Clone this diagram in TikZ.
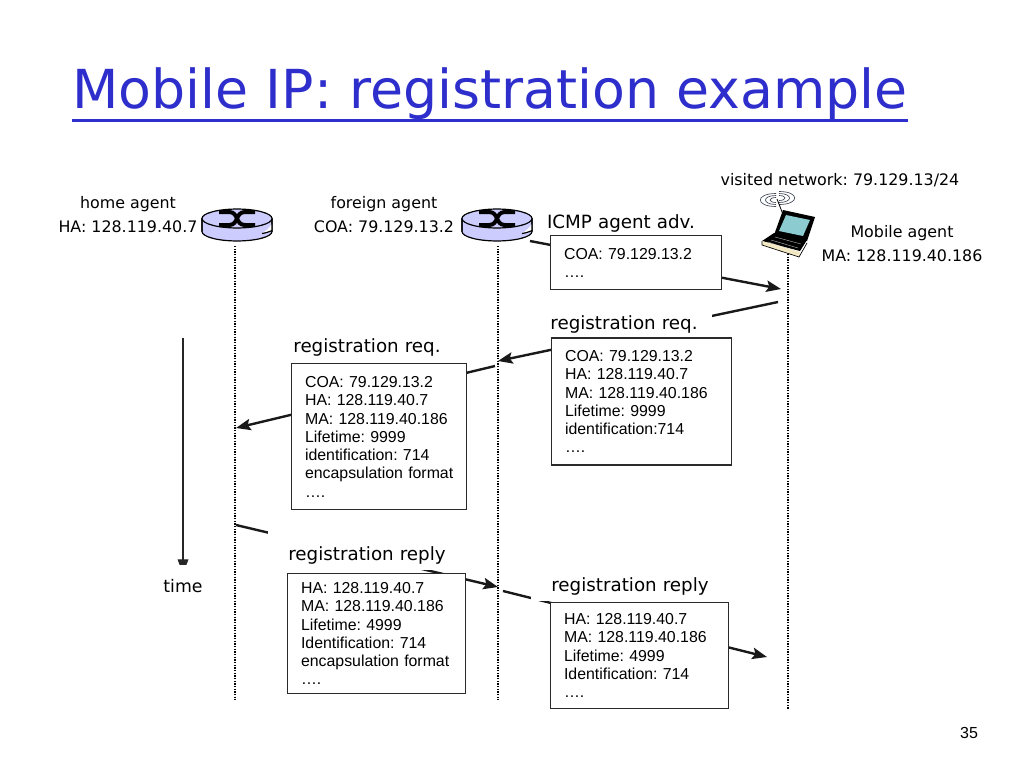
\documentclass[tikz,border=0pt]{standalone}
\usepackage{fontspec}
\setmainfont{Liberation Sans}
\newfontfamily\labelfamily{DejaVu Sans}
\usepackage{xcolor}
\usepackage{tikz}
\usetikzlibrary{positioning, backgrounds, arrows.meta}

\definecolor{titleblue}{HTML}{2E2ECC}
\definecolor{routerfill}{HTML}{CCCCFF}
\definecolor{boxline}{HTML}{2A2A2A}
\definecolor{screenblue}{HTML}{8CCBD0}
\definecolor{laptopbase}{HTML}{F3E8C4}
\definecolor{wavegrey}{HTML}{404858}

\frenchspacing
\tikzset{
    msgbox/.style={draw=boxline, fill=white, line width=1.1pt, inner ysep=0pt, inner xsep=10pt, align=left,
        text width=#1-20pt, font=\fontsize{11.9}{13.7}\selectfont},
    agent/.style={inner sep=0pt, align=center, font=\labelfamily\fontsize{11.9}{18}\selectfont},
    msglabel/.style={fill=white, inner sep=0pt, text width=#1, align=center, text height=22.5pt, text depth=7pt,
        font=\labelfamily\fontsize{13.7}{16}\selectfont},
    msgarrow/.style={-{Stealth[length=11pt, width=8.5pt, inset=2pt]}, line width=1.8pt, color=black!90},
    lifeline/.style={line width=0.8pt, dash pattern=on 1pt off 1pt},
    router/.pic={
        \draw[line width=0.9pt, fill=routerfill] (-35,-6.5) -- (-35,6.5) arc[start angle=180, end angle=360, x radius=26.25pt, y radius=7.1pt] -- (35,-6.5) -- cycle;
        \fill[white] (35,-1) -- (35,5.5) .. controls (33,6.5) and (29,8) .. (25,8.5) .. controls (29,6) and (33,2) .. (35,-1);
        \draw[line width=0.9pt] (-35,-6.5) -- (-35,6.5) (35,-6.5) -- (35,6.5) (35,5.5) .. controls (33,6.5) and (29,8) .. (25,8.5);
        \draw[line width=0.9pt, fill=routerfill] (0,-6.5) circle[x radius=26.25pt, y radius=7.1pt];
        \draw[line width=3pt] (-18,-13) -- (-8,-13) .. controls (2,-13) and (-2,0) .. (8,0) -- (18,0);
        \draw[line width=3pt] (-18,0) -- (-8,0) .. controls (2,0) and (-2,-13) .. (8,-13) -- (18,-13);
    },
    laptop/.pic={
        % waves round the aerial
        \foreach \r/\h in {6/2.5, 12/4.5, 19/6.5} {
            \draw[wavegrey, line width=0.5pt] (-9,-25-\h) .. controls (-11-\r,-25-\h) and (-11-\r,-25+\h) .. (-9,-25+\h);
            \draw[wavegrey, line width=0.5pt] (-6,-27-\h) .. controls (-4+\r,-27-\h) and (-4+\r,-27+\h) .. (-6,-27+\h);
        }
        \draw[line width=0.6pt] (-8,-26) -- (-1,-8);
        \fill[black] (-2,-15) -- (30,-8) -- (22,16) -- (-11,10) -- cycle;
        \fill[screenblue] (1,-10) -- (25,-5) -- (18,11) -- (-6,6) -- cycle;
        \fill[black] (-11,8) -- (22,15) -- (15,26) -- (-23,16) -- cycle;
        \draw[white!70!black, line width=0.3pt] (-10,12) -- (16,19) (-14,15) -- (13,23) (-17,17) -- (10,26);
        \fill[laptopbase] (-23,16) -- (15,27) -- (14,32) -- (-23,20) -- cycle;
        \draw[black, line width=0.5pt] (-23,16) -- (-23,20) -- (14,32) -- (22,18);
    },
}

\begin{document}
\begin{tikzpicture}[x=0.75pt, y=-0.75pt]

        \useasboundingbox (0,0) rectangle (1024,768);

        \node[inner sep=0pt, text=titleblue, font=\labelfamily\fontsize{40.3}{48}\selectfont] (title) at (490,94) {Mobile IP: registration example};

        % the three hosts
        \coordinate (ha) at (237,225);
        \coordinate (fa) at (497,225);
        \coordinate (ma) at (785,225);
        \pic at (ha) {router};
        \pic at (fa) {router};
        \pic at (ma) {laptop};

        \node[agent] (halabel) at (128,215) {home agent\\HA: 128.119.40.7};
        \node[agent] (falabel) at (384,215) {foreign agent\\COA: 79.129.13.2};
        \node[agent] (malabel) at (902,244) {Mobile agent\\MA: 128.119.40.186};
        \node[agent] (visited) at (840,180) {visited network: 79.129.13/24};

        % captions first, white so that they hide the arrows
        \node[msglabel=130pt] (advlabel) at (621,218) {ICMP agent adv.};
        \node[msglabel=132pt] (reqlabel) at (624,319) {registration req.};
        \node[msglabel=132pt] (reqlabelb) at (367,342) {registration req.};
        \node[msglabel=148pt] (replabel) at (367,550) {registration reply};
        \node[msglabel=148pt] (replabelb) at (630,581) {registration reply};
        \node[fill=white, inner sep=0pt, minimum width=40pt, minimum height=31pt, font=\labelfamily\fontsize{13}{16}\selectfont] (timelabel) at (183,586) {time};

        % message boxes
        \node[msgbox=128.25pt, minimum height=40.5pt, anchor=north west] (adv) at (550,235) {COA: 79.129.13.2\\….};
        \node[msgbox=135pt, minimum height=95.25pt] (reqma) [below right=35.25pt and 0.75pt of adv.south west] {COA: 79.129.13.2\\HA: 128.119.40.7\\MA: 128.119.40.186\\Lifetime: 9999\\identification:714\\….};
        \node[msgbox=133.5pt, minimum height=79.5pt] (repfa) [below right=102pt and -0.75pt of reqma.south west] {HA: 128.119.40.7\\MA: 128.119.40.186\\Lifetime: 4999\\Identification: 714\\….};
        \node[msgbox=131.25pt, minimum height=109.5pt, anchor=north west] (reqfa) at (291,363) {COA: 79.129.13.2\\HA: 128.119.40.7\\MA: 128.119.40.186\\Lifetime: 9999\\identification: 714\\encapsulation format\\….};
        \node[msgbox=133.5pt, minimum height=90pt, anchor=north west] (repha) at (287,573) {HA: 128.119.40.7\\MA: 128.119.40.186\\Lifetime: 4999\\Identification: 714\\encapsulation format\\….};

        \node[font=\fontsize{12}{14}\selectfont, inner sep=0pt] (pagenum) at (969,733) {35};

        % ends of the lifelines and of the arrows
        \coordinate (hatop) at (235,246);
        \coordinate (hatail) at (235,700);
        \coordinate (fatop) at (498,246);
        \coordinate (fatail) at (498,700);
        \coordinate (matop) at (788,254);
        \coordinate (matail) at (788,710);
        \coordinate (timetop) at (183,338);
        \coordinate (timetail) at (183,574);
        \coordinate (a1) at (530,241);
        \coordinate (a2) at (781,289);
        \coordinate (b1) at (778,302);
        \coordinate (b2) at (498,361);
        \coordinate (c1) at (495,366);
        \coordinate (c2) at (236,428);
        \coordinate (d1) at (236,525);
        \coordinate (d2) at (498,587);
        \coordinate (e1) at (503,591);
        \coordinate (e2) at (767,657);

        \begin{scope}[on background layer]
            \draw[lifeline] (hatop) -- (hatail);
            \draw[lifeline] (fatop) -- (fatail);
            \draw[lifeline] (matop) -- (matail);
            \draw[-{Stealth[length=11pt, width=8pt, inset=0pt]}, line width=0.9pt, draw=black!85] (timetop) -- (timetail);
            \path[msgarrow]
            (a1) edge (a2)
            (b1) edge (b2)
            (c1) edge (c2)
            (d1) edge (d2)
            (e1) edge (e2);
        \end{scope}
        \draw[titleblue, line width=2.2pt] ([yshift=-0.3pt]title.south west) -- ([yshift=-0.3pt]title.south east);

\end{tikzpicture}
\end{document}
